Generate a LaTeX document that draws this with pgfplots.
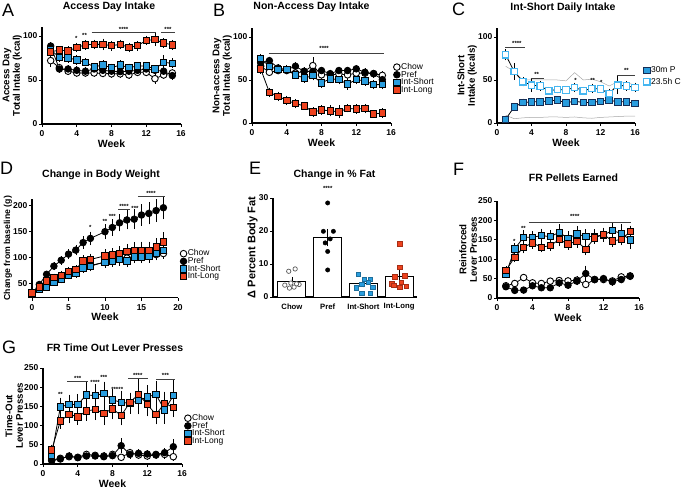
\documentclass[border=0pt]{standalone}
\usepackage{fontspec}
\setmainfont{Liberation Sans}
\usepackage{pgfplots}
\pgfplotsset{compat=1.18}
\definecolor{cShort}{RGB}{41,157,222}
\definecolor{cLong}{RGB}{238,66,30}
\definecolor{cPdark}{RGB}{20,45,85}
\definecolor{cClight}{RGB}{70,182,240}
\tikzset{
 sig/.style={line width=0.7pt,black!75},
 star/.style={font=\bfseries\fontsize{6}{6}\selectfont,inner sep=0pt},
 plet/.style={anchor=north west,inner sep=0pt,font=\fontsize{18}{18}\selectfont},
}
\pgfplotsset{
 gp/.style={scale only axis, anchor=south west, axis lines=left,
   axis line style={line width=1.1pt,-},
   every tick/.style={black,line width=0.9pt},
   tick align=outside, major tick length=3pt,
   tick label style={font=\bfseries\fontsize{8.5}{9}\selectfont},
   yticklabel style={inner sep=1.5pt},
   /pgf/number format/assume math mode=true,
   xlabel style={font=\bfseries\fontsize{10.5}{12}\selectfont},
   xlabel shift=-4pt,
   ylabel style={font=\bfseries\fontsize{9.7}{10.5}\selectfont, align=center, inner sep=1pt},
   ylabel shift=-1.5pt,
   title style={font=\bfseries\fontsize{10.5}{12}\selectfont},
   clip=false,
   legend cell align=left,
   legend image code/.code={\draw[only marks,##1] plot coordinates {(3.4pt,0pt)};},
   legend style={draw=none, fill=none, anchor=west, font=\fontsize{8.5}{9}\selectfont, inner sep=0pt, row sep=-2pt, nodes={inner sep=1pt}, /tikz/every even column/.append style={column sep=2pt}},
   /pgfplots/error bars/error bar style={line width=0.6pt,black},
   /pgfplots/error bars/error mark options={line width=0.6pt,black,mark size=2.2pt},
 },
 eb/.style={/pgfplots/error bars/y dir=both, /pgfplots/error bars/y explicit},
 chow/.style={black,line width=0.8pt,mark=*,mark size=3.3pt,mark options={solid,fill=white,draw=black,line width=0.9pt}},
 pref/.style={black,line width=0.8pt,mark=*,mark size=3.3pt,mark options={solid,fill=black,draw=black}},
 ishort/.style={black,line width=0.8pt,mark=square*,mark size=3.2pt,mark options={solid,fill=cShort,draw=black,line width=0.8pt}},
 ilong/.style={black,line width=0.8pt,mark=square*,mark size=3.2pt,mark options={solid,fill=cLong,draw=black,line width=0.8pt}},
 cp/.style={black,line width=0.8pt,mark=square*,mark size=3.2pt,mark options={solid,fill=cShort,draw=cPdark,line width=0.9pt}},
 cc/.style={black,line width=0.8pt,mark=square*,mark size=3.2pt,mark options={solid,fill=white,draw=cClight,line width=1.2pt}},
}
\begin{document}
\begin{tikzpicture}
\path[use as bounding box] (0,0) rectangle (685pt,488pt);
\node[plet] at (2pt,484pt) {A};
\node[plet] at (213pt,484pt) {B};
\node[plet] at (452pt,485pt) {C};
\node[plet] at (0pt,326pt) {D};
\node[plet] at (249pt,326pt) {E};
\node[plet] at (453pt,325pt) {F};
\node[plet] at (2pt,147pt) {G};

% ---------------- A
\begin{axis}[gp, at={(42pt,364pt)}, width=139pt, height=96.8pt, xmin=0,xmax=16,ymin=0,ymax=110,
 xtick={0,4,8,12,16}, ytick={0,50,100}, xlabel={Week}, ylabel={Access Day\\Total Intake (kcal)},
 title={Access Day Intake}, title style={at={(0.5,1)},anchor=center,yshift=14pt,xshift=-2.5pt}]
\addplot[chow,eb] table[row sep=\\,x=x,y=y,y error=e]{x y e\\1 72 5\\2 64 2\\3 60 2\\4 58 2\\5 58 2\\6 58 2\\7 57.5 2\\8 57 2\\9 57 2\\10 55.7 2\\11 58.7 2\\12 58.7 2\\13 51.5 3\\14 55.7 2\\15 58 2\\};
\addplot[pref,eb] table[row sep=\\,x=x,y=y,y error=e]{x y e\\1 88.6 2\\2 62.5 2\\3 62.5 2\\4 61 2\\5 60 2\\6 62.5 2\\7 61 2\\8 60 2\\9 59.5 2\\10 60 2\\11 61 2\\12 62.5 2\\13 61 2\\14 60 2\\15 55 2\\};
\addplot[ishort,eb] table[row sep=\\,x=x,y=y,y error=e]{x y e\\1 84 3\\2 76 3\\3 75 3\\4 73 3\\5 70 2\\6 65 2\\7 67 3\\8 64 2\\9 67 3\\10 64 2\\11 66 2\\12 66 2\\13 62.5 2\\14 70 6\\15 69 3\\};
\addplot[ilong,eb] table[row sep=\\,x=x,y=y,y error=e]{x y e\\1 82 3\\2 84 2\\3 83 3\\4 87 3\\5 90 3\\6 90.5 3\\7 90.5 4\\8 89 3\\9 90.5 3\\10 87 3\\11 89 3\\12 95 3\\13 96 5\\14 92 3\\15 90 3\\};
\node[star] at (axis cs:3.95,97) {*};
\node[star] at (axis cs:4.9,101) {**};
\draw[sig] (axis cs:5.7,103.8) -- (axis cs:13.15,103.8);
\node[star] at (axis cs:9.4,108) {****};
\draw[sig] (axis cs:13.7,103.8) -- (axis cs:15.3,103.8);
\node[star] at (axis cs:14.5,107) {***};
\end{axis}

% ---------------- B
\begin{axis}[gp, at={(252pt,365pt)}, width=139pt, height=94.6pt, xmin=0,xmax=16,ymin=0,ymax=110,
 xtick={0,4,8,12,16}, ytick={0,50,100}, xlabel={Week}, ylabel={Non-access Day\\Total Intake (kcal)},
 title={Non-Access Day Intake}, title style={at={(0.5,1)},anchor=center,yshift=15.4pt,xshift=-10pt},
 legend style={at={(1.017,0.471)}}]
\addlegendimage{chow}\addlegendimage{pref}\addlegendimage{ishort}\addlegendimage{ilong}
\legend{Chow,Pref,Int-Short,Int-Long}
\addplot[chow,eb] table[row sep=\\,x=x,y=y,y error=e]{x y e\\1 66 3\\2 59 2\\3 61 2\\4 61 2\\5 58 2\\6 60 2\\7 66.7 7\\8 56 2\\9 56 2\\10 57 2\\11 56 2\\12 58 2\\13 58 2\\14 57.4 2\\15 55.4 2\\};
\addplot[pref,eb] table[row sep=\\,x=x,y=y,y error=e]{x y e\\1 70 2\\2 72.5 2\\3 64 2\\4 62 2\\5 66 2\\6 60 2\\7 60 2\\8 61 2\\9 57.4 2\\10 61 2\\11 61 2\\12 63 2\\13 59 2\\14 57.4 2\\15 50.4 2\\};
\addplot[ishort,eb] table[row sep=\\,x=x,y=y,y error=e]{x y e\\1 74.8 3\\2 65.9 3\\3 62 3\\4 62 3\\5 56 2\\6 52.3 3\\7 55 3\\8 46.5 3\\9 51.5 3\\10 50.4 3\\11 45.3 4\\12 50.4 3\\13 49 3\\14 44.6 3\\15 44.6 3\\};
\addplot[ilong,eb] table[row sep=\\,x=x,y=y,y error=e]{x y e\\1 62.8 3\\2 35.7 3\\3 31 3\\4 26.4 3\\5 22.5 3\\6 20 2\\7 12.8 3\\8 15 3\\9 14.3 4\\10 12.8 5\\11 17 2\\12 16.3 3\\13 16.7 3\\14 10.5 2\\15 11.6 3\\};
\draw[sig] (axis cs:1.9,81) -- (axis cs:15.2,81);
\node[star] at (axis cs:8.3,87) {****};
\end{axis}

% ---------------- C
\begin{axis}[gp, at={(497pt,365pt)}, width=138pt, height=94.6pt, xmin=0,xmax=16,ymin=0,ymax=110,
 xtick={0,4,8,12,16}, ytick={0,50,100}, xlabel={Week}, ylabel={Int-Short\\Intake (kcals)},
 title={Int-Short Daily Intake}, title style={at={(0.5,1)},anchor=center,yshift=14.4pt,xshift=-3pt},
 legend style={at={(1.061,0.497)}, row sep=2pt}]
\addlegendimage{cp}\addlegendimage{cc}
\legend{30m P,23.5h C}
\addplot[black!35,line width=0.5pt] table[row sep=\\,x=x,y=y]{x y\\1 66\\2 60\\3 50\\4 50\\5 50\\6 50\\7 50\\8 49\\9 58.6\\10 50\\11 51\\12 48\\13 43\\14 48\\15 47\\16 44\\};
\addplot[black!35,line width=0.5pt] table[row sep=\\,x=x,y=y]{x y\\1 9\\2 5\\3 6\\4 6.5\\5 6.5\\6 7\\7 7\\8 6.5\\9 7\\10 6\\11 5.5\\12 6.5\\13 7\\14 7.5\\15 8\\16 8\\};
\addplot[cp,eb] table[row sep=\\,x=x,y=y,y error=e]{x y e\\1 4.3 1\\2 18.8 2\\3 23.8 2\\4 24.6 2\\5 24.6 1.5\\6 25.8 1.5\\7 26.6 1.5\\8 23.4 1.5\\9 25.4 1.5\\10 23.8 1.5\\11 23.8 1.5\\12 25.4 1.5\\13 26.6 2\\14 24.6 1.5\\15 24.6 1.5\\16 22.7 1.5\\};
\addplot[cc,eb] table[row sep=\\,x=x,y=y,y error=e]{x y e\\1 79.3 4\\2 59.8 7\\3 48 3\\4 44 5\\5 43 3\\6 37.5 2\\7 39 2\\8 38.3 2\\9 41.4 3\\10 37.5 2\\11 40.2 3\\12 39.5 2\\13 34.4 3\\14 44 8\\15 43 3\\16 41.4 3\\};
\draw[sig] (axis cs:0.97,88) -- (axis cs:3.3,88);
\node[star] at (axis cs:2.3,93) {****};
\draw[sig] (axis cs:3.9,52) -- (axis cs:5.4,52);
\node[star] at (axis cs:4.6,57) {**};
\node[star] at (axis cs:9.1,50) {*};
\node[star] at (axis cs:11.1,49) {**};
\node[star] at (axis cs:12.1,47.7) {*};
\draw[sig] (axis cs:13.9,55) -- (axis cs:16,55);
\node[star] at (axis cs:15,61) {**};
\end{axis}

% ---------------- D
\begin{axis}[gp, at={(32pt,190.3pt)}, width=146pt, height=98.8pt, xmin=0,xmax=20,ymin=22,ymax=212,
 xtick={0,5,10,15,20}, ytick={50,100,150,200}, xlabel={Week}, ylabel={Change from baseline (g)},
 ylabel style={font=\bfseries\fontsize{8.7}{10}\selectfont},
 title={Change in Body Weight}, title style={at={(0.5,1)},anchor=center,yshift=18.2pt,xshift=-4pt},
 legend style={at={(1.014,0.331)}}]
\addlegendimage{chow}\addlegendimage{pref}\addlegendimage{ishort}\addlegendimage{ilong}
\legend{Chow,Pref,Int-Short,Int-Long}
\addplot[chow,eb] table[row sep=\\,x=x,y=y,y error=e]{x y e\\0 30 2\\1 40 2\\2 50 2\\3 56 2\\4 62 2\\5 67 3\\6 72 3\\7 80 4\\8 84 4\\10 90 5\\11 94 5\\12 96 5\\13 98 6\\14 100 6\\15 100 6\\16 103 6\\17 105 6\\18 107 6\\};
\addplot[pref,eb] table[row sep=\\,x=x,y=y,y error=e]{x y e\\0 30 2\\1 47.4 3\\2 67 3\\3 82.7 4\\4 94 4\\5 105.8 5\\6 113.5 6\\7 128 8\\8 136 9\\10 149 10\\11 157 12\\12 166 12\\13 171.5 14\\14 173 15\\15 181 16\\16 184 17\\17 189.5 18\\18 195 18\\};
\addplot[ishort,eb] table[row sep=\\,x=x,y=y,y error=e]{x y e\\0 28.7 2\\1 37.8 2\\2 43 3\\3 52.6 3\\4 57 3\\5 65.4 4\\6 68.6 4\\7 79.5 5\\8 82.7 6\\10 91 7\\11 93 8\\12 95.5 8\\13 93 8\\14 100.6 8\\15 100.6 8\\16 102 9\\17 107 9\\18 113.5 10\\};
\addplot[ilong,eb] table[row sep=\\,x=x,y=y,y error=e]{x y e\\0 31 2\\1 43 2\\2 54.5 3\\3 61 3\\4 65.4 3\\5 73 4\\6 76.3 4\\7 93 6\\8 95.5 7\\10 102.5 8\\11 104 9\\12 107 10\\13 111.5 10\\14 113.5 11\\15 113.5 12\\16 113.5 12\\17 120 12\\18 129.5 14\\};
\node[star] at (axis cs:8,157) {*};
\node[star] at (axis cs:10,168) {**};
\node[star] at (axis cs:11,177.6) {***};
\draw[sig] (axis cs:11.8,191.7) -- (axis cs:13.4,191.7);
\node[star] at (axis cs:12.6,198) {****};
\node[star] at (axis cs:14.1,193.6) {***};
\draw[sig] (axis cs:14.5,217) -- (axis cs:18.2,217);
\node[star] at (axis cs:16.3,223) {****};
\end{axis}

% ---------------- E
\begin{axis}[gp, at={(273pt,191pt)}, width=144pt, height=99pt, xmin=-0.53,xmax=3.5,ymin=0,ymax=30,
 xtick={0,1,2,3}, xticklabels={Chow,Pref,Int-Short,Int-Long}, xtick style={draw=none},
 x tick label style={font=\bfseries\fontsize{7.7}{8}\selectfont},
 ytick={0,10,20,30}, ylabel={Δ Percent Body Fat},
 ylabel style={font=\bfseries\fontsize{11}{12}\selectfont},
 title={Change in \% Fat}, title style={at={(0.5,1)},anchor=center,yshift=17pt,xshift=-10.5pt}]
\addplot[ybar, bar width=28pt, fill=white, draw=black, line width=1pt, eb] table[row sep=\\,x=x,y=y,y error=e]{x y e\\0 4.8 0.6\\1 18 2\\2 4.1 0.5\\3 6.3 1.2\\};
\addplot[only marks, mark=*, mark size=2.2pt, mark options={fill=white,draw=black!65,line width=0.7pt}] table[row sep=\\,x=x,y=y]{x y\\-0.09 7.8\\0.09 8.5\\-0.2 3.6\\-0.07 2.7\\0.06 3.0\\0.2 3.8\\-0.03 4.2\\0.13 4.0\\};
\addplot[only marks, mark=*, mark size=2.2pt, mark options={fill=black,draw=black}] table[row sep=\\,x=x,y=y]{x y\\1.0 28.5\\0.88 19.9\\1.16 19.9\\1.07 17.6\\0.93 16.4\\1.0 13.8\\1.0 8.2\\};
\addplot[only marks, mark=square*, mark size=2.2pt, mark options={fill=cShort,draw=cShort!70!black,line width=0.4pt}] table[row sep=\\,x=x,y=y]{x y\\1.86 6.9\\2.02 5.4\\2.19 5.4\\2.14 4.5\\1.95 3.8\\1.8 2.8\\2.26 3.0\\1.95 1.2\\2.19 1.2\\};
\addplot[only marks, mark=square*, mark size=2.2pt, mark options={fill=cLong,draw=cLong!70!black,line width=0.4pt}] table[row sep=\\,x=x,y=y]{x y\\3.02 16.2\\3.02 9.1\\2.88 6.1\\3.16 6.4\\2.79 4.0\\3.065 4.5\\2.85 3.5\\3.19 3.3\\3.02 3.0\\};
\node[star] at (axis cs:1,32.8) {****};
\end{axis}

% ---------------- F
\begin{axis}[gp, at={(497pt,190pt)}, width=142pt, height=97pt, xmin=0,xmax=16,ymin=0,ymax=250,
 xtick={0,4,8,12,16}, ytick={0,50,100,150,200,250}, xlabel={Week}, ylabel={Reinforced\\Lever Presses},
 title={FR Pellets Earned}, title style={at={(0.5,1)},anchor=center,yshift=17.7pt,xshift=5.5pt}]
\addplot[chow,eb] table[row sep=\\,x=x,y=y,y error=e]{x y e\\1 31.5 3\\2 37.4 3\\3 52.7 4\\4 39 3\\5 37.4 3\\6 43.4 3\\7 45 4\\8 44 3\\9 46 4\\10 35 4\\11 47.6 4\\12 47.6 4\\13 44 3\\14 54.4 4\\15 57 4\\};
\addplot[pref,eb] table[row sep=\\,x=x,y=y,y error=e]{x y e\\1 29 3\\2 19.6 2\\3 20.4 2\\4 31.5 3\\5 26.4 3\\6 26.4 3\\7 39 4\\8 33 4\\9 43.4 5\\10 63 15\\11 47.6 4\\12 50 4\\13 41.7 4\\14 47.6 4\\15 56 5\\};
\addplot[ishort,eb] table[row sep=\\,x=x,y=y,y error=e]{x y e\\1 61 5\\2 127 8\\3 156.5 12\\4 156.5 10\\5 161 12\\6 158 12\\7 169 15\\8 154 13\\9 165 14\\10 158 14\\11 159 12\\12 162.5 12\\13 173.5 14\\14 166.7 18\\15 149.7 18\\};
\addplot[ilong,eb] table[row sep=\\,x=x,y=y,y error=e]{x y e\\1 70.6 6\\2 105.4 8\\3 131 10\\4 142 10\\5 131 8\\6 135 8\\7 150.5 12\\8 139.5 10\\9 146 11\\10 126 10\\11 155 10\\12 164 12\\13 147 10\\14 151 10\\15 171 10\\};
\node[star] at (axis cs:1.95,146) {*};
\node[star] at (axis cs:2.97,178.6) {**};
\draw[sig] (axis cs:3.6,195.7) -- (axis cs:15.15,195.7);
\node[star] at (axis cs:8.76,211) {****};
\end{axis}

% ---------------- G
\begin{axis}[gp, at={(43pt,24pt)}, width=139pt, height=96pt, xmin=0,xmax=16,ymin=0,ymax=250,
 xtick={0,4,8,12,16}, ytick={0,50,100,150,200,250}, xlabel={Week}, ylabel={Time-Out\\Lever Presses},
 title={FR Time Out Lever Presses}, title style={at={(0.5,1)},anchor=center,yshift=14.7pt,xshift=2.5pt},
 legend style={at={(1.017,0.359)}}]
\addlegendimage{chow}\addlegendimage{pref}\addlegendimage{ishort}\addlegendimage{ilong}
\legend{Chow,Pref,Int-Short,Int-Long}
\addplot[chow,eb] table[row sep=\\,x=x,y=y,y error=e]{x y e\\1 10.4 3\\2 14.8 3\\3 19 4\\4 17.4 3\\5 25 4\\6 22.6 4\\7 20.8 4\\8 25 4\\9 17.4 4\\10 29.5 5\\11 23.4 4\\12 20.8 4\\13 23.4 4\\14 25 5\\15 19 5\\};
\addplot[pref,eb] table[row sep=\\,x=x,y=y,y error=e]{x y e\\1 8.7 3\\2 13 3\\3 20.8 4\\4 16.5 3\\5 20.8 3\\6 20.8 3\\7 19 3\\8 21.7 4\\9 47.7 14\\10 25 5\\11 27.8 5\\12 26 4\\13 25 4\\14 29.5 6\\15 45 14\\};
\addplot[ishort,eb] table[row sep=\\,x=x,y=y,y error=e]{x y e\\1 23.4 5\\2 149 18\\3 155 20\\4 155 22\\5 180 28\\6 178 25\\7 184 25\\8 167 22\\9 160.6 25\\10 158 22\\11 165 30\\12 175 25\\13 181 30\\14 140.6 30\\15 178 35\\};
\addplot[ilong,eb] table[row sep=\\,x=x,y=y,y error=e]{x y e\\1 36.5 8\\2 112 15\\3 129.3 18\\4 123 15\\5 138 20\\6 142 22\\7 132 25\\8 144 22\\9 126 20\\10 160 20\\11 182 35\\12 155 25\\13 129 20\\14 158 25\\15 147.5 20\\};
\node[star] at (axis cs:2,180) {**};
\draw[sig] (axis cs:2.8,214) -- (axis cs:5.2,214);
\node[star] at (axis cs:4,223) {***};
\node[star] at (axis cs:6,212.7) {****};
\node[star] at (axis cs:7,225.7) {***};
\node[star] at (axis cs:8.4,195) {****};
\node[star] at (axis cs:9.1,195) {*};
\draw[sig] (axis cs:9.8,223) -- (axis cs:12.1,223);
\node[star] at (axis cs:10.9,231.8) {****};
\draw[sig] (axis cs:13.05,220.5) -- (axis cs:15.2,220.5);
\node[star] at (axis cs:14.1,230) {***};
\end{axis}
\end{tikzpicture}
\end{document}
